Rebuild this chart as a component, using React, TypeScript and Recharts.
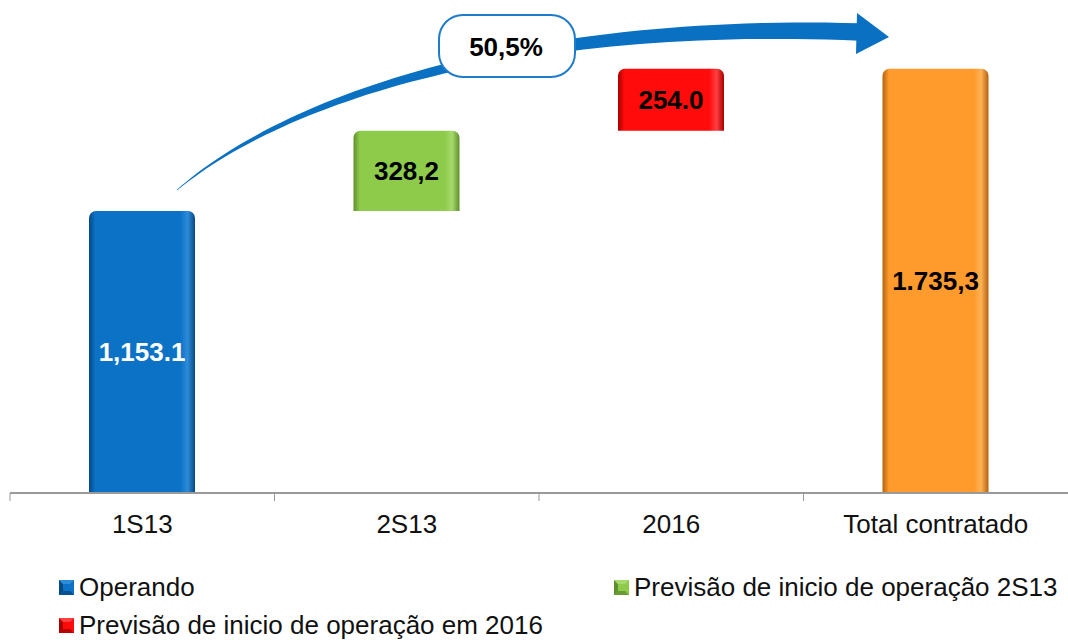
import React from 'react';
import { BarChart, Bar, XAxis, YAxis, Legend, LabelList, Customized } from 'recharts';

// ---- data ----
const categories = ['1S13', '2S13', '2016', 'Total contratado'];
const operando = [1153.1, null, null, null];
const previsao2S13 = [null, 328.2, null, null];
const previsao2016 = [null, null, 254.0, null];
const totalContratado = [null, null, null, 1735.3];
const valueLabels = ['1,153.1', '328,2', '254.0', '1.735,3'];
const growthLabel = '50,5%';
const yTicks = [0, 2000];

const seriesNames = {
  operando: 'Operando',
  previsao2S13: 'Previsão de inicio de operação 2S13',
  previsao2016: 'Previsão de inicio de operação em 2016',
  total: 'Total contratado',
};

// ---- layout / style ----
const W = 1068;
const H = 640;
const MARGIN = { top: 4, right: 0, bottom: 0, left: 10 };
const XAXIS_H = 67;
const LEGEND_H = 80;
const STEP = (W - MARGIN.left - MARGIN.right) / categories.length;
const FONT = '"Liberation Sans", Arial, Helvetica, sans-serif';

const COLORS = {
  operando: { dark: '#064a84', main: '#0b72c6', light: '#2d8bd8' },
  previsao2S13: { dark: '#5f8f2c', main: '#8ecb4b', light: '#a6da6c' },
  previsao2016: { dark: '#a80000', main: '#ff0b0b', light: '#ff4040' },
  total: { dark: '#b5620e', main: '#ff9a2c', light: '#ffb254' },
};

// build table for the library (waterfall: invisible base + visible step)
const rows = categories.map((c, i) => {
  let base = 0;
  if (totalContratado[i] == null) {
    for (let k = 0; k < i; k++) {
      base += (operando[k] ?? 0) + (previsao2S13[k] ?? 0) + (previsao2016[k] ?? 0);
    }
  }
  return {
    name: c,
    base,
    operando: operando[i],
    previsao2S13: previsao2S13[i],
    previsao2016: previsao2016[i],
    total: totalContratado[i],
  };
});

const Grad = ({ id, c }: { id: string; c: { dark: string; main: string; light: string } }) => (
  <linearGradient id={id} x1="0" y1="0" x2="1" y2="0">
    <stop offset="0" stopColor={c.dark} />
    <stop offset="0.06" stopColor={c.main} />
    <stop offset="0.86" stopColor={c.main} />
    <stop offset="0.93" stopColor={c.light} />
    <stop offset="1" stopColor={c.dark} />
  </linearGradient>
);

const makeLabel = (color: string) => (p: any) => {
  const { x, y, width, height } = p;
  if (height == null || Math.abs(Number(height)) < 1) return null;
  const cx = Number(x) + Number(width) / 2;
  const idx = Math.max(0, Math.min(categories.length - 1, Math.floor((cx - MARGIN.left) / STEP)));
  return (
    <text
      x={cx}
      y={Number(y) + Number(height) / 2}
      textAnchor="middle"
      dominantBaseline="central"
      fontFamily={FONT}
      fontWeight="bold"
      fontSize={26}
      fill={color}
    >
      {valueLabels[idx]}
    </text>
  );
};

const AxisTick = (p: any) => {
  const { x, y, payload } = p;
  return (
    <g>
      <line x1={x - STEP / 2} x2={x - STEP / 2} y1={y} y2={y + 8} stroke="#9a9a9a" strokeWidth={1} />
      <text x={x} y={y + 40} textAnchor="middle" fontFamily={FONT} fontSize={26} fill="#111">
        {payload.value}
      </text>
    </g>
  );
};

// decorative growth arrow with callout
const GrowthArrow = () => {
  const P0 = [177, 190];
  const P1 = [285, 98];
  const P2 = [520, 20];
  const P3 = [860, 32];
  const n = 60;
  const up: string[] = [];
  const lo: string[] = [];
  for (let i = 0; i <= n; i++) {
    const t = i / n;
    const mt = 1 - t;
    const bx = mt * mt * mt * P0[0] + 3 * mt * mt * t * P1[0] + 3 * mt * t * t * P2[0] + t * t * t * P3[0];
    const by = mt * mt * mt * P0[1] + 3 * mt * mt * t * P1[1] + 3 * mt * t * t * P2[1] + t * t * t * P3[1];
    const dx = 3 * mt * mt * (P1[0] - P0[0]) + 6 * mt * t * (P2[0] - P1[0]) + 3 * t * t * (P3[0] - P2[0]);
    const dy = 3 * mt * mt * (P1[1] - P0[1]) + 6 * mt * t * (P2[1] - P1[1]) + 3 * t * t * (P3[1] - P2[1]);
    const len = Math.hypot(dx, dy) || 1;
    const nx = -dy / len;
    const ny = dx / len;
    const w = (0.5 + 17 * t) / 2;
    up.push(`${(bx - nx * w).toFixed(1)},${(by - ny * w).toFixed(1)}`);
    lo.push(`${(bx + nx * w).toFixed(1)},${(by + ny * w).toFixed(1)}`);
  }
  const body = [...up, ...lo.reverse()].join(' ');
  return (
    <g>
      <polygon points={body} fill="#0a70c2" />
      <polygon points="857,13 889,37 856,54" fill="#0a70c2" />
      <rect x={439} y={15} width={136} height={62} rx={24} ry={24} fill="#ffffff" stroke="#1e7ccb" strokeWidth={2} />
      <text x={506} y={47} textAnchor="middle" dominantBaseline="central" fontFamily={FONT} fontWeight="bold" fontSize={26} fill="#000">
        {growthLabel}
      </text>
    </g>
  );
};

const LegendIcon = ({ c }: { c: { dark: string; main: string; light: string } }) => (
  <svg width={15} height={15} style={{ position: 'absolute', left: 0, top: 8 }}>
    <rect x={0} y={0} width={15} height={15} fill={c.main} />
    <polygon points="0,0 4,4 4,11 0,15" fill={c.dark} />
    <polygon points="0,15 4,11 11,11 15,15" fill={c.dark} opacity={0.8} />
    <polygon points="0,0 15,0 11,4 4,4" fill={c.light} />
  </svg>
);

const legendItems = [
  { key: 'operando', left: 59, top: 12 },
  { key: 'previsao2S13', left: 614, top: 12 },
  { key: 'previsao2016', left: 59, top: 50 },
] as const;

const renderLegend = () => (
  <div style={{ position: 'relative', width: W, height: LEGEND_H, fontFamily: FONT }}>
    {legendItems.map((it) => (
      <div
        key={it.key}
        style={{ position: 'absolute', left: it.left, top: it.top, height: 30, whiteSpace: 'nowrap' }}
      >
        <LegendIcon c={COLORS[it.key]} />
        <span style={{ position: 'absolute', left: 20, top: 0, fontSize: 26, lineHeight: '30px', color: '#111' }}>
          {seriesNames[it.key]}
        </span>
      </div>
    ))}
  </div>
);

export default function App() {
  return (
    <div style={{ position: 'absolute', left: 0, top: 0, width: W, height: H, background: '#fff' }}>
      <BarChart width={W} height={H} data={rows} margin={MARGIN} barSize={106}>
        <defs>
          <Grad id="g-operando" c={COLORS.operando} />
          <Grad id="g-previsao2S13" c={COLORS.previsao2S13} />
          <Grad id="g-previsao2016" c={COLORS.previsao2016} />
          <Grad id="g-total" c={COLORS.total} />
        </defs>
        <XAxis
          dataKey="name"
          height={XAXIS_H}
          tickLine={false}
          tickSize={0}
          tickMargin={0}
          axisLine={{ stroke: '#9a9a9a', strokeWidth: 2 }}
          tick={<AxisTick />}
          interval={0}
        />
        <YAxis hide domain={[yTicks[0], yTicks[1]]} ticks={yTicks} />
        <Legend verticalAlign="bottom" height={LEGEND_H} content={renderLegend} wrapperStyle={{ left: 0, width: W }} />
        <Bar dataKey="base" stackId="w" fill="transparent" legendType="none" isAnimationActive={false} />
        <Bar dataKey="operando" name={seriesNames.operando} stackId="w" fill="url(#g-operando)" radius={[7, 7, 0, 0]} isAnimationActive={false}>
          <LabelList dataKey="operando" content={makeLabel('#ffffff')} />
        </Bar>
        <Bar dataKey="previsao2S13" name={seriesNames.previsao2S13} stackId="w" fill="url(#g-previsao2S13)" radius={[7, 7, 0, 0]} isAnimationActive={false}>
          <LabelList dataKey="previsao2S13" content={makeLabel('#000000')} />
        </Bar>
        <Bar dataKey="previsao2016" name={seriesNames.previsao2016} stackId="w" fill="url(#g-previsao2016)" radius={[7, 7, 0, 0]} isAnimationActive={false}>
          <LabelList dataKey="previsao2016" content={makeLabel('#000000')} />
        </Bar>
        <Bar dataKey="total" name={seriesNames.total} stackId="w" fill="url(#g-total)" radius={[7, 7, 0, 0]} isAnimationActive={false} legendType="none">
          <LabelList dataKey="total" content={makeLabel('#000000')} />
        </Bar>
        <Customized component={GrowthArrow} />
      </BarChart>
    </div>
  );
}
